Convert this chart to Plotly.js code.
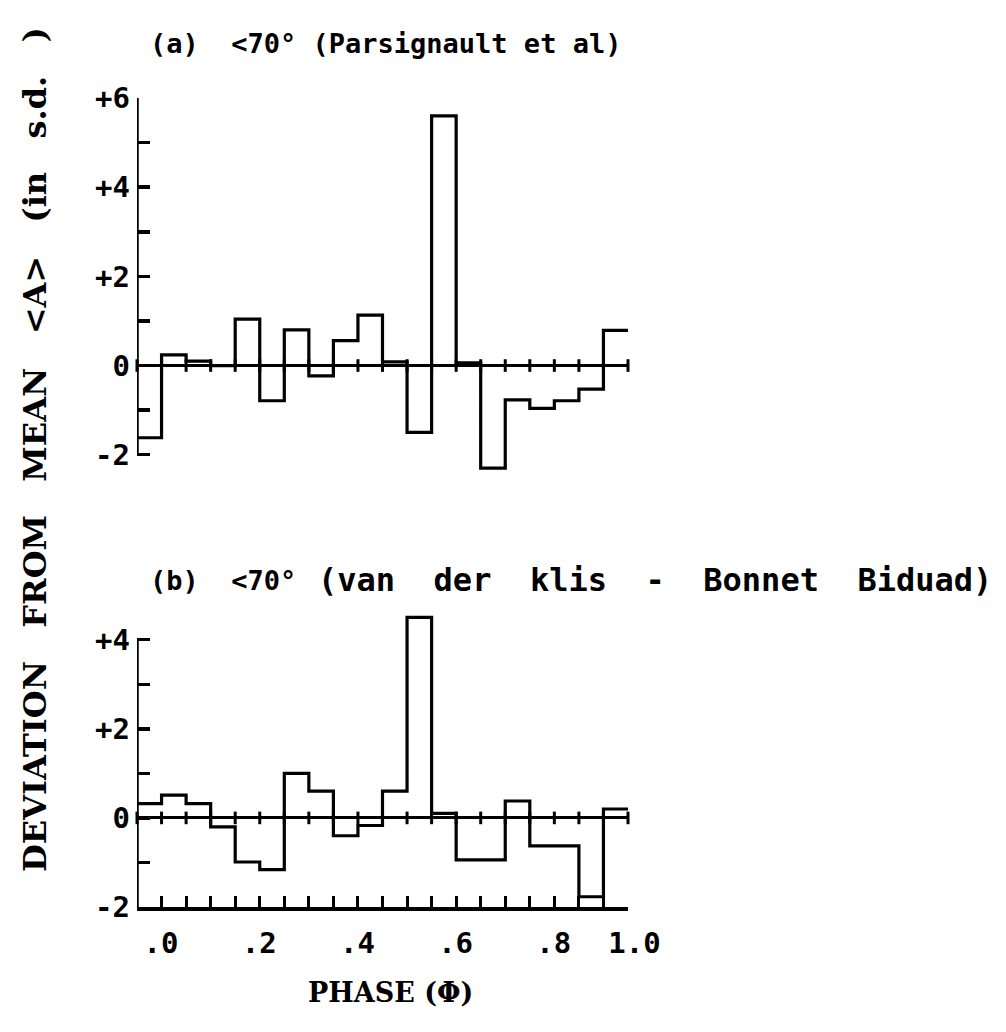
<!DOCTYPE html>
<html>
<head>
<meta charset="utf-8">
<script src="https://cdn.plot.ly/plotly-3.0.1.min.js"></script>
<style>html,body{margin:0;padding:0;background:#fff;}#chart{width:1006px;height:1032px;}</style>
</head>
<body>
<div id="chart"></div>
<script>
// Phase bin edges (20 bins of 0.05)
const phaseEdges = [0.00,0.05,0.10,0.15,0.20,0.25,0.30,0.35,0.40,0.45,0.50,0.55,0.60,0.65,0.70,0.75,0.80,0.85,0.90,0.95,1.00];
// (a) <70° (Parsignault et al) – deviation from mean per bin (s.d.)
const devA = [-1.62,0.24,0.10,0.00,1.04,-0.79,0.80,-0.23,0.56,1.13,0.08,-1.50,5.60,0.06,-2.30,-0.77,-0.96,-0.79,-0.53,0.79];
// (b) <70° (van der klis - Bonnet Biduad)
const devB = [0.32,0.51,0.32,-0.20,-0.99,-1.16,1.00,0.60,-0.40,-0.17,0.60,4.50,0.10,-0.94,-0.94,0.38,-0.63,-0.63,-1.77,0.20];
// Tick values / labels
const yTickValsA = [-2,-1,0,1,2,3,4,5,6];
const yTickTextA = ['-2','','0','','+2','','+4','','+6'];
const yTickValsB = [-2,-1,0,1,2,3,4];
const yTickTextB = ['-2','','0','','+2','','+4'];
const xTickText = ['.0','','','','.2','','','','.4','','','','.6','','','','.8','','','','1.0\u00a0\u00a0'];
const NB = '\u00a0';
const G2 = NB + NB, G3 = NB + NB + NB;
const titleA1 = '(a)' + G2 + '&lt;70°' + NB + '(Parsignault' + NB + 'et' + NB + 'al)';
const titleB1 = '(b)' + G2 + '&lt;70°';
const titleB2 = '(van' + G2 + 'der' + G2 + 'klis' + G2 + '-' + G2 + 'Bonnet' + G2 + 'Biduad)';
const yLabel = 'DEVIATION' + G3 + 'FROM' + G3 + 'MEAN' + G3 + '&lt;A&gt;' + G3 + '(in' + G3 + 's.d.' + G3 + ')';
const xLabel = 'PHASE' + NB + '(Φ)';

const stepY = arr => arr.concat([arr[arr.length-1]]);
const zeros = phaseEdges.map(() => 0);
const lineStyle = {color:'#000', width:3.2, shape:'hv'};
const tickMarker = {symbol:'line-ns', size:9, line:{color:'#000', width:3}};

const traces = [
  {x: phaseEdges, y: stepY(devA), mode:'lines', line: lineStyle, xaxis:'x', yaxis:'y', hoverinfo:'skip'},
  {x: phaseEdges, y: zeros, mode:'markers', marker: tickMarker, xaxis:'x', yaxis:'y', cliponaxis:false, hoverinfo:'skip'},
  {x: phaseEdges, y: stepY(devB), mode:'lines', line: lineStyle, xaxis:'x2', yaxis:'y2', hoverinfo:'skip'},
  {x: phaseEdges, y: zeros, mode:'markers', marker: tickMarker, xaxis:'x2', yaxis:'y2', cliponaxis:false, hoverinfo:'skip'}
];

const W = 1006, H = 1032;
const xDom = [137/W, 628/W];
const tickFont = {family:'DejaVu Sans Mono', size:29, color:'#000', weight:'bold'};
const axisLine = {color:'#000', width:3.5};

const layout = {
  width: W, height: H,
  margin: {l:0, r:0, t:0, b:0},
  paper_bgcolor:'#fff', plot_bgcolor:'#fff',
  showlegend:false,
  xaxis: {domain: xDom, range:[0,1.0], anchor:'y', showline:false, showgrid:false, zeroline:false, showticklabels:false, ticks:''},
  yaxis: {domain: [1-477/H, 1-98/H], range:[-2.5,6], anchor:'x', showline:false,
          showgrid:false, zeroline:true, zerolinecolor:'#000', zerolinewidth:3,
          tickmode:'array', tickvals: yTickValsA, ticktext: yTickTextA, ticks:'inside', ticklen:13, tickwidth:3.5, tickcolor:'#000',
          tickfont: tickFont, ticklabelstandoff: 6},
  xaxis2: {domain: xDom, range:[0,1.0], anchor:'y2', showline:true, linecolor:'#000', linewidth:3.5, showgrid:false, zeroline:false,
          tickmode:'array', tickvals: phaseEdges, ticktext: xTickText, ticks:'inside', ticklen:11, tickwidth:3, tickcolor:'#000',
          tickfont: tickFont, ticklabelstandoff: 8, ticklabelshift: 24},
  yaxis2: {domain: [1-907/H, 1-613/H], range:[-2,4.6], anchor:'x2', showline:false, showgrid:false,
          zeroline:true, zerolinecolor:'#000', zerolinewidth:3,
          tickmode:'array', tickvals: yTickValsB, ticktext: yTickTextB, ticks:'inside', ticklen:13, tickwidth:3.5, tickcolor:'#000',
          tickfont: tickFont, ticklabelstandoff: 6},
  shapes: [
    {type:'line', xref:'x', yref:'y', x0:phaseEdges[0], x1:phaseEdges[0],
     y0: yTickValsA[0], y1: yTickValsA[yTickValsA.length-1], line: axisLine},
    {type:'line', xref:'x2', yref:'y2', x0:phaseEdges[0], x1:phaseEdges[0],
     y0: yTickValsB[0], y1: yTickValsB[yTickValsB.length-1], line: axisLine}
  ],
  annotations: [
    {text: titleA1, xref:'paper', yref:'paper', x:148/W, y:1-44/H, xanchor:'left', yanchor:'middle', showarrow:false,
     font:{family:'DejaVu Sans Mono', size:27, color:'#000', weight:'bold'}},
    {text: titleB1, xref:'paper', yref:'paper', x:148/W, y:1-580/H, xanchor:'left', yanchor:'middle', showarrow:false,
     font:{family:'DejaVu Sans Mono', size:27, color:'#000', weight:'bold'}},
    {text: titleB2, xref:'paper', yref:'paper', x:316/W, y:1-580/H, xanchor:'left', yanchor:'middle', showarrow:false,
     font:{family:'DejaVu Sans Mono', size:32, color:'#000', weight:'bold'}},
    {text: yLabel, xref:'paper', yref:'paper', x:35/W, y:1-450/H, xanchor:'center', yanchor:'middle', textangle:-90, showarrow:false,
     font:{family:'DejaVu Serif', size:32, color:'#000', weight:'bold'}},
    {text: xLabel, xref:'paper', yref:'paper', x:390/W, y:1-992/H, xanchor:'center', yanchor:'middle', showarrow:false,
     font:{family:'DejaVu Serif', size:27, color:'#000', weight:'bold'}}
  ]
};

Plotly.newPlot('chart', traces, layout, {staticPlot:true, displayModeBar:false});
</script>
</body>
</html>
